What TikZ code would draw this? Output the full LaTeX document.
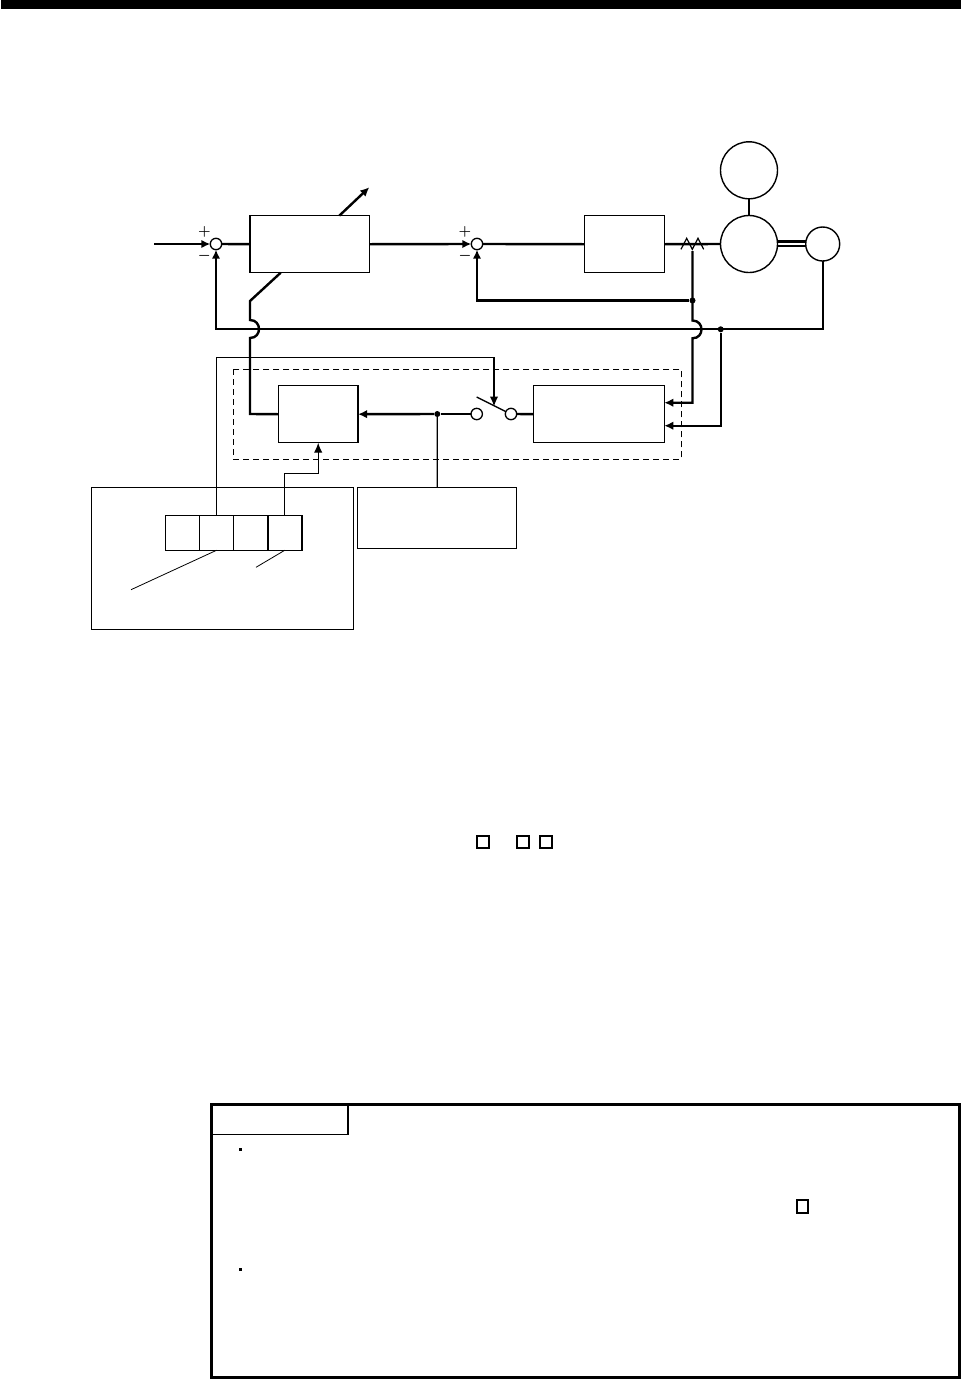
\documentclass[tikz,border=0pt]{standalone}
\usetikzlibrary{arrows.meta}
\tikzset{
  block/.style={draw,rectangle,line width=1.5pt,inner sep=0pt,outer sep=0pt},
  sumpt/.style={draw,circle,fill=white,line width=1.3pt,minimum size=11.4pt,inner sep=0pt,outer sep=0pt},
  bigcirc/.style={draw,circle,line width=1.4pt,minimum size=57pt,inner sep=0pt,outer sep=0pt},
  sig/.style={line width=2.4pt},
  ctrl/.style={line width=1.35pt},
  thin line/.style={line width=1.3pt},
  head/.style={-{Latex[length=9pt,width=8.5pt]}},
  ctrlhead/.style={-{Latex[length=10pt,width=8.5pt]}},
  signlabel/.style={inner sep=0pt,font=\fontsize{14}{14}\selectfont\boldmath},
  dotpt/.style={circle,fill,minimum size=6pt,inner sep=0pt},
  tinybox/.style={draw,rectangle,line width=2.2pt,minimum size=12pt,inner sep=0pt}
}
\begin{document}
\begin{tikzpicture}[x=1pt,y=-1pt]
\useasboundingbox (0,0) rectangle (961,1379);
\fill (1,0) rectangle (961,8.7);
\node[sumpt] (sumA) at (216,244) {};
\node[sumpt] (sumB) at (477,244) {};
\node[block,minimum width=119.5pt,minimum height=57pt] (gain) at (309.7,244.2) {};
\node[block,minimum width=80pt,minimum height=57pt] (drive) at (624.3,244.2) {};
\node[bigcirc] (motor) at (749,244) {};
\node[bigcirc] (load) at (749,170.3) {};
\node[draw,circle,line width=1.4pt,minimum size=34pt,inner sep=0pt,outer sep=0pt] (enc) at (822.7,244) {};
\node[block,minimum width=131pt,minimum height=57pt] (estim) at (598.8,414.2) {};
\node[block,minimum width=79.7pt,minimum height=57pt] (tuner) at (318.2,414.2) {};
\node[sumpt] (swL) at (476.7,414) {};
\node[sumpt] (swR) at (511,414) {};
\node[block,minimum width=159pt,minimum height=61pt] (table) at (437.2,518.2) {};
\node[block,minimum width=262pt,minimum height=141.6pt] (param) at (222.3,558.5) {};
\foreach \i/\x in {1/182.3,2/216.5,3/250.7,4/284.7}
  \node[draw,rectangle,line width=1.4pt,minimum width=34.2pt,minimum height=34.6pt,inner sep=0pt,outer sep=0pt] (cell\i) at (\x,533) {};
\node[dotpt] (jctA) at (692.5,300.5) {};
\node[dotpt] (jctB) at (720.7,329.3) {};
\node[dotpt] (jctC) at (437.3,414) {};
\node[signlabel] (plusA) at (204.3,232) {$+$};
\node[signlabel] (minusA) at (204.3,256) {$-$};
\node[signlabel] (plusB) at (465,232) {$+$};
\node[signlabel] (minusB) at (465,256) {$-$};
\coordinate (inp) at (154,244);
\coordinate (gainTop) at (369.3,187.3);
\coordinate (gainFoot) at (339.3,215.7);
\coordinate (gainKnee) at (250,301);
\coordinate (gainBase) at (280.7,272.7);
\coordinate (gainLow) at (250,414);
\coordinate (tapTop) at (692.5,251);
\coordinate (tapLow) at (692.5,402.7);
\coordinate (encLow) at (822.7,329.3);
\coordinate (fbCorner) at (216,329.3);
\coordinate (innerCorner) at (477,300.5);
\coordinate (lineOne) at (216.5,357.5);
\coordinate (lineTwo) at (494,357.5);
\coordinate (lineTip) at (494,406.5);
\coordinate (stepOne) at (284.5,473.5);
\coordinate (stepTwo) at (318.2,473.5);
\coordinate (bladeA) at (476.7,397);
\coordinate (bladeB) at (506,411.7);
\coordinate (leadA) at (131,589.7);
\coordinate (leadB) at (256,567.3);
\draw[sig,head] (inp) -- (sumA.west);
\draw[sig] (sumA.east) -- (gain.west);
\draw[sig,head] (gain.east) -- (sumB.west);
\draw[sig] (sumB.east) -- (drive.west);
\draw[sig] (drive.east) -- (motor.west);
\draw[line width=1.2pt] (681,249.3) -- (686.7,238.3) -- (692.3,249.3) -- (698,238.3) -- (703.7,249.3);
\draw[thin line] (motor.north) -- (load.south);
\draw[line width=2.4pt] ([yshift=2.7pt]motor.east) -- ([yshift=2.7pt]enc.west);
\draw[line width=2pt] ([yshift=-2.3pt]motor.east) -- ([yshift=-2.3pt]enc.west);
\draw[sig,head] (tapTop) -- (692.5,320.5) .. controls (704.5,320.5) and (704.5,338.3) .. (692.5,338.3) -- (tapLow) -- (estim.east |- tapLow);
\draw[sig,head] (jctB) -- (720.7,425.7) -- (estim.east |- 0,425.7);
\draw[sig,head] (jctA) -- (innerCorner) -- (sumB.south);
\draw[line width=2pt,head] (enc.south) -- (encLow) -- (fbCorner) -- (sumA.south);
\draw[sig,head] (gainFoot) -- (gainTop);
\draw[sig] (tuner.west) -- (gainLow) -- (250,338) .. controls (262,338) and (262,320) .. (250,320) -- (gainKnee) -- (gainBase);
\draw[sig,head] (jctC) -- (tuner.east);
\draw[sig] (swL.west) -- (jctC);
\draw[sig] (swR.east) -- (estim.west);
\draw[ctrl] (bladeA) -- (bladeB);
\draw[ctrl,ctrlhead] (cell2.north) -- (lineOne) -- (lineTwo) -- (lineTip);
\draw[ctrl,ctrlhead] (cell4.north -| stepOne) -- (stepOne) -- (stepTwo) -- (tuner.south);
\draw[thin line] (jctC) -- (table.north);
\draw[line width=.8pt] (cell2.south) -- (leadA);
\draw[line width=.8pt] (cell4.south) -- (leadB);
\draw[line width=1.2pt,dash pattern=on 6pt off 4pt] (233.3,369.3) rectangle (681.3,459.3);
\node[tinybox] (markA) at (483,841.7) {};
\node[tinybox] (markB) at (523,841.7) {};
\node[tinybox] (markC) at (545.7,841.7) {};
\node[draw,rectangle,line width=3pt,minimum width=748pt,minimum height=272.7pt,inner sep=0pt] (note) at (585.6,1240.7) {};
\node[draw,rectangle,line width=1.4pt,minimum width=136pt,minimum height=29.8pt,inner sep=0pt,outer sep=0pt] (notetab) at (280,1119.4) {};
\fill (238.8,1147.8) rectangle (241.8,1150.8);
\fill (238.8,1268.2) rectangle (241.8,1271.2);
\node[draw,rectangle,line width=2pt,minimum width=11.5pt,minimum height=13pt,inner sep=0pt] (markD) at (802.5,1206.6) {};
\end{tikzpicture}
\end{document}
